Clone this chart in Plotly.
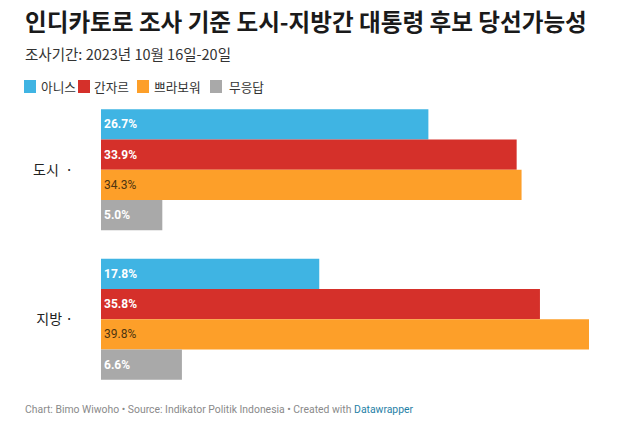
import plotly.graph_objects as go

categories = ["도시", "지방"]
tick_labels = ["도시  ·", "지방 ·"]
series_names = ["아니스", "간자르", "쁘라보워", "무응답"]
anies = [26.7, 17.8]
ganjar = [33.9, 35.8]
prabowo = [34.3, 39.8]
no_answer = [5.0, 6.6]
series_values = [anies, ganjar, prabowo, no_answer]
colors = ["#3fb4e3", "#d5302a", "#fd9f29", "#a9a9a9"]
label_colors = ["white", "white", "#4e3510", "white"]
label_bold = [True, True, False, True]

W, H = 620, 431
ML, MR, MT, MB = 101, 620 - 589, 95, 431 - 394
PW, PH = W - ML - MR, H - MT - MB

def px(x):
    return (x - ML) / PW

def py(y):
    return (H - MB - y) / PH

KR = "Noto Sans CJK KR"
fig = go.Figure()
for name, vals, c, lc, b in zip(series_names, series_values, colors, label_colors, label_bold):
    fig.add_trace(go.Bar(
        y=categories, x=vals, name=name, orientation="h",
        marker=dict(color=c, line=dict(width=0)),
        text=[f"{v:.1f}%" for v in vals],
        textposition="inside", insidetextanchor="start",
        textfont=dict(family="Roboto", size=12, color=lc, weight="bold" if b else "normal"),
        hoverinfo="skip", showlegend=False,
    ))

shapes = []
annotations = []
annotations.append(dict(text="<b>인디카토로 조사 기준 도시-지방간 대통령 후보 당선가능성</b>",
                        x=px(24), y=py(20.5), xref="paper", yref="paper", xanchor="left", yanchor="middle",
                        showarrow=False, borderpad=0,
                        font=dict(family=KR, size=23.6, color="#1a1a1a")))
annotations.append(dict(text="조사기간: 2023년 10월 16일-20일",
                        x=px(23), y=py(53), xref="paper", yref="paper", xanchor="left", yanchor="middle",
                        showarrow=False, font=dict(family=KR, size=14.5, color="#333333")))
leg_sq = [24, 78, 137, 210]
leg_tx = [39, 92, 152, 227]
for name, c, sx, tx in zip(series_names, colors, leg_sq, leg_tx):
    shapes.append(dict(type="rect", xref="paper", yref="paper",
                       x0=px(sx), x1=px(sx + 12), y0=py(80), y1=py(93),
                       fillcolor=c, line=dict(width=0)))
    annotations.append(dict(text=name, x=px(tx), y=py(86), xref="paper", yref="paper",
                            xanchor="left", yanchor="middle", showarrow=False,
                            font=dict(family=KR, size=12.7, color="#333333")))
annotations.append(dict(
    text="Chart: Bimo Wiwoho • Source: Indikator Politik Indonesia • Created with "
         "<span style='color:#1f7fa6'>Datawrapper</span>",
    x=px(23), y=py(409), xref="paper", yref="paper", xanchor="left", yanchor="middle",
    showarrow=False, font=dict(family="Roboto", size=10.4, color="#8a8a8a")))

fig.update_layout(
    width=W, height=H,
    margin=dict(l=ML, r=MR, t=MT, b=MB, pad=0),
    paper_bgcolor="white", plot_bgcolor="white",
    barmode="group", bargap=0.19, bargroupgap=0,
    xaxis=dict(range=[0, 39.8], visible=False, fixedrange=True),
    yaxis=dict(range=[1.5, -0.5], tickmode="array", tickvals=categories, ticktext=tick_labels,
               showgrid=False, zeroline=False, showline=False, ticks="",
               ticklabelstandoff=27,
               tickfont=dict(family=KR, size=14, color="#222222")),
    shapes=shapes, annotations=annotations,
    uniformtext=dict(mode=False),
)
fig.write_html("out.html", config={"displayModeBar": False},
               post_script="document.body.style.margin='0';")
